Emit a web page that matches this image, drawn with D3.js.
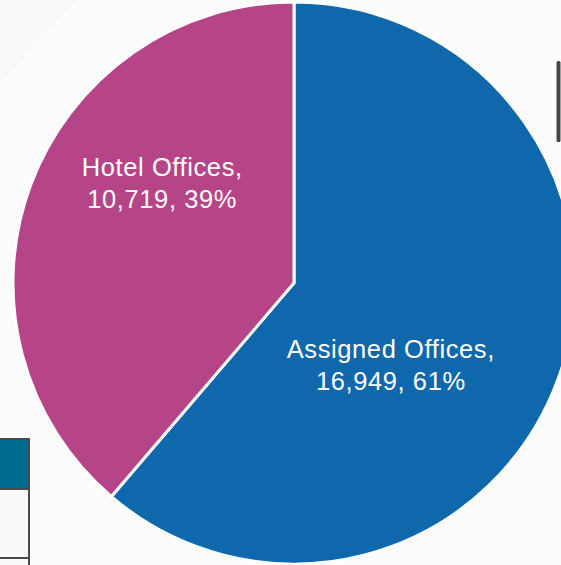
<!DOCTYPE html>
<html>
<head>
<meta charset="utf-8">
<script src="https://cdn.jsdelivr.net/npm/d3@7"></script>
<style>
  html, body { margin: 0; padding: 0; background: #f9f9f9; }
  svg { display: block; }
  .slice-label { font-family: "Liberation Sans", Arial, sans-serif; font-size: 25.5px; fill: #ffffff; letter-spacing: 0.6px; }
</style>
</head>
<body>
<div id="wrapper"></div>
<script>
// chart data
const categories = ["Assigned Offices", "Hotel Offices"]
const counts = [16949, 10719]
const percents = [61, 39]
const colors = ["#0f67ac", "#b64587"]

function drawPie() {

  // 1. Dimensions
  const width = 561
  const height = 565
  const cx = 294
  const cy = 283
  const radius = 281

  const dataset = categories.map((c, i) => ({ name: c, count: counts[i], pct: percents[i] }))

  // 2. Canvas
  const wrapper = d3.select("#wrapper")
    .append("svg")
      .attr("width", width)
      .attr("height", height)

  // faint slide background pieces
  wrapper.append("polygon")
      .attr("points", "0,83 77,0 561,0 561,565 0,565")
      .attr("fill", "#fcfcfc")

  // table fragment bottom left
  const tbl = wrapper.append("g")
  tbl.append("rect")
      .attr("x", -5).attr("y", 439)
      .attr("width", 34).attr("height", 50)
      .attr("fill", "#006c92")
      .attr("stroke", "#4a4a4a").attr("stroke-width", 2)
  tbl.append("rect")
      .attr("x", -5).attr("y", 489)
      .attr("width", 34).attr("height", 69)
      .attr("fill", "#fafafa")
      .attr("stroke", "#4a4a4a").attr("stroke-width", 2)
  tbl.append("rect")
      .attr("x", -5).attr("y", 558)
      .attr("width", 34).attr("height", 20)
      .attr("fill", "#fafafa")
      .attr("stroke", "#4a4a4a").attr("stroke-width", 2)

  // box edge on the right
  wrapper.append("rect")
      .attr("x", 556.5).attr("y", 61)
      .attr("width", 4).attr("height", 81)
      .attr("rx", 1.5)
      .attr("fill", "#444444")

  const bounds = wrapper.append("g")
      .attr("transform", `translate(${cx}, ${cy})`)

  // 3. Pie generator
  const pie = d3.pie()
    .value(d => d.count)
    .sort(null)

  const arc = d3.arc()
    .innerRadius(0)
    .outerRadius(radius)

  const arcs = pie(dataset)

  // 4. Draw slices
  bounds.selectAll(".slice")
    .data(arcs)
    .join("path")
      .attr("class", "slice")
      .attr("d", arc)
      .attr("fill", (d, i) => colors[i])
      .attr("stroke", "#ffffff")
      .attr("stroke-width", 3)
      .attr("stroke-linejoin", "miter")

  // 5. Labels (placed inside each slice, office style)
  const labelArc = d3.arc()
    .innerRadius(radius * 0.5)
    .outerRadius(radius * 0.5)
  const labelShift = [[-35, 34], [0, -50]]
  const fmt = d3.format(",")

  const labels = bounds.selectAll(".slice-label")
    .data(arcs)
    .join("text")
      .attr("class", "slice-label")
      .attr("text-anchor", "middle")
      .attr("transform", (d, i) => {
        const [x, y] = labelArc.centroid(d)
        return `translate(${x + labelShift[i][0]}, ${y + labelShift[i][1]})`
      })

  labels.append("tspan")
      .attr("x", 0)
      .attr("y", -8)
      .text(d => d.data.name + ",")
  labels.append("tspan")
      .attr("x", 0)
      .attr("y", 24)
      .text(d => `${fmt(d.data.count)}, ${d.data.pct}%`)
}
drawPie()
</script>
</body>
</html>
